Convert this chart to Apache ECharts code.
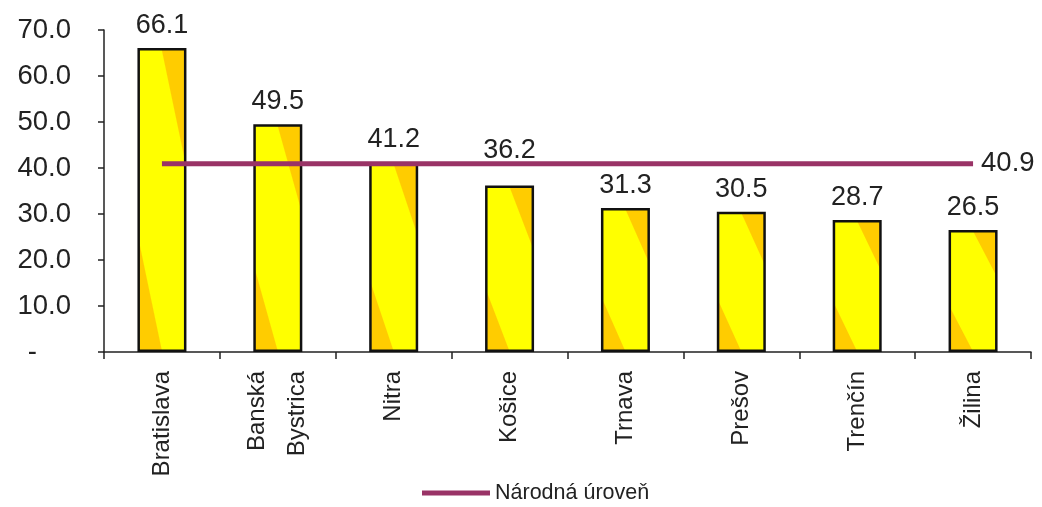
<!DOCTYPE html>
<html>
<head>
<meta charset="utf-8">
<script src="https://cdn.jsdelivr.net/npm/echarts@6/dist/echarts.min.js"></script>
<style>
html,body{margin:0;padding:0;background:#fff;}
#c{width:1042px;height:507px;}
</style>
</head>
<body>
<div id="c"></div>
<script>
var categories = ['Bratislava', 'Banská\nBystrica', 'Nitra', 'Košice', 'Trnava', 'Prešov', 'Trenčín', 'Žilina'];
var regionValues = [66.1, 49.5, 41.2, 36.2, 31.3, 30.5, 28.7, 26.5];
var nationalValues = [40.9, 40.9, 40.9, 40.9, 40.9, 40.9, 40.9, 40.9];
var nationalName = 'Národná úroveň';

var FONT = '"Liberation Sans", Arial, sans-serif';
var TXT = '#222';
var YELLOW = '#FFFF00', ORANGE = '#FFCC00';

var W = 1042, H = 507;
var GRID = {left: 104, right: 11, top: 30, bottom: 155};
var Y_MAX = 70;
var pxPerUnit = (H - GRID.top - GRID.bottom) / Y_MAX;
var BAR_W = 49;
var LABEL_DIST = 9;

// Excel-like diagonal two-tone fill, defined in the bar's own box space
function barFill(value) {
  var w = BAR_W, h = value * pxPerUnit;
  var gx = 0.37 * h, gy = -0.48 * w;
  var n = Math.sqrt(gx * gx + gy * gy); gx /= n; gy /= n;
  var L = w * gx - h * gy;
  var t1 = (-0.38 * h * gy) / L;
  var t2 = (0.5 * w * gx - h * gy) / L;
  return new echarts.graphic.LinearGradient(0, 1, L * gx / w, 1 + L * gy / h, [
    {offset: 0, color: ORANGE},
    {offset: t1, color: ORANGE},
    {offset: Math.min(t1 + 0.01, 1), color: YELLOW},
    {offset: Math.max(t2 - 0.01, 0), color: YELLOW},
    {offset: t2, color: ORANGE},
    {offset: 1, color: ORANGE}
  ]);
}

var barData = regionValues.map(function (v, i) {
  var item = {value: v, itemStyle: {color: barFill(v)}};
  // lift a value label that would collide with the national-level line
  var nat = nationalValues[i];
  var gapPx = (nat - v) * pxPerUnit;
  if (gapPx > 0 && gapPx < LABEL_DIST + 30) {
    item.label = {distance: gapPx};
  }
  return item;
});

var chart = echarts.init(document.getElementById('c'), null, {renderer: 'canvas'});
chart.setOption({
  animation: false,
  backgroundColor: '#fff',
  grid: {left: GRID.left, right: GRID.right, top: GRID.top, bottom: GRID.bottom, containLabel: false},
  legend: {
    data: [nationalName],
    left: 422, top: 482, padding: 0,
    icon: 'rect', itemWidth: 68, itemHeight: 5, itemGap: 5,
    textStyle: {fontFamily: FONT, fontSize: 21.5, color: TXT, padding: [0, 0, 0, 0]}
  },
  xAxis: {
    type: 'category',
    data: categories,
    axisLine: {lineStyle: {color: '#222', width: 1.5}},
    axisTick: {show: true, length: 7, lineStyle: {color: '#222', width: 1.5}},
    axisLabel: {rotate: 90, margin: 19, fontFamily: FONT, fontSize: 24, color: TXT, lineHeight: 40}
  },
  yAxis: {
    type: 'value', min: 0, max: Y_MAX, interval: 10,
    splitLine: {show: false},
    axisLine: {show: true, lineStyle: {color: '#222', width: 1.5}},
    axisTick: {show: true, length: 6, lineStyle: {color: '#222', width: 1.5}},
    axisLabel: {
      margin: 33, fontFamily: FONT, fontSize: 27.5, color: TXT,
      formatter: function (v) { return v === 0 ? '{d|-}' : v.toFixed(1); },
      rich: {d: {fontFamily: FONT, fontSize: 27.5, color: TXT, padding: [0, 34, 0, 0]}}
    }
  },
  series: [
    {
      type: 'bar',
      data: barData,
      barWidth: BAR_W,
      itemStyle: {borderColor: '#111', borderWidth: 2.5},
      label: {
        show: true, position: 'top', distance: LABEL_DIST,
        fontFamily: FONT, fontSize: 27, color: TXT,
        formatter: function (p) { return p.value.toFixed(1); }
      },
      z: 2
    },
    {
      type: 'line',
      name: nationalName,
      data: nationalValues,
      symbol: 'none',
      lineStyle: {color: '#993366', width: 5},
      itemStyle: {color: '#993366'},
      endLabel: {
        show: true, distance: 8,
        fontFamily: FONT, fontSize: 27.5, color: TXT,
        formatter: function (p) { return p.value.toFixed(1); }
      },
      z: 3
    }
  ]
});
</script>
</body>
</html>
